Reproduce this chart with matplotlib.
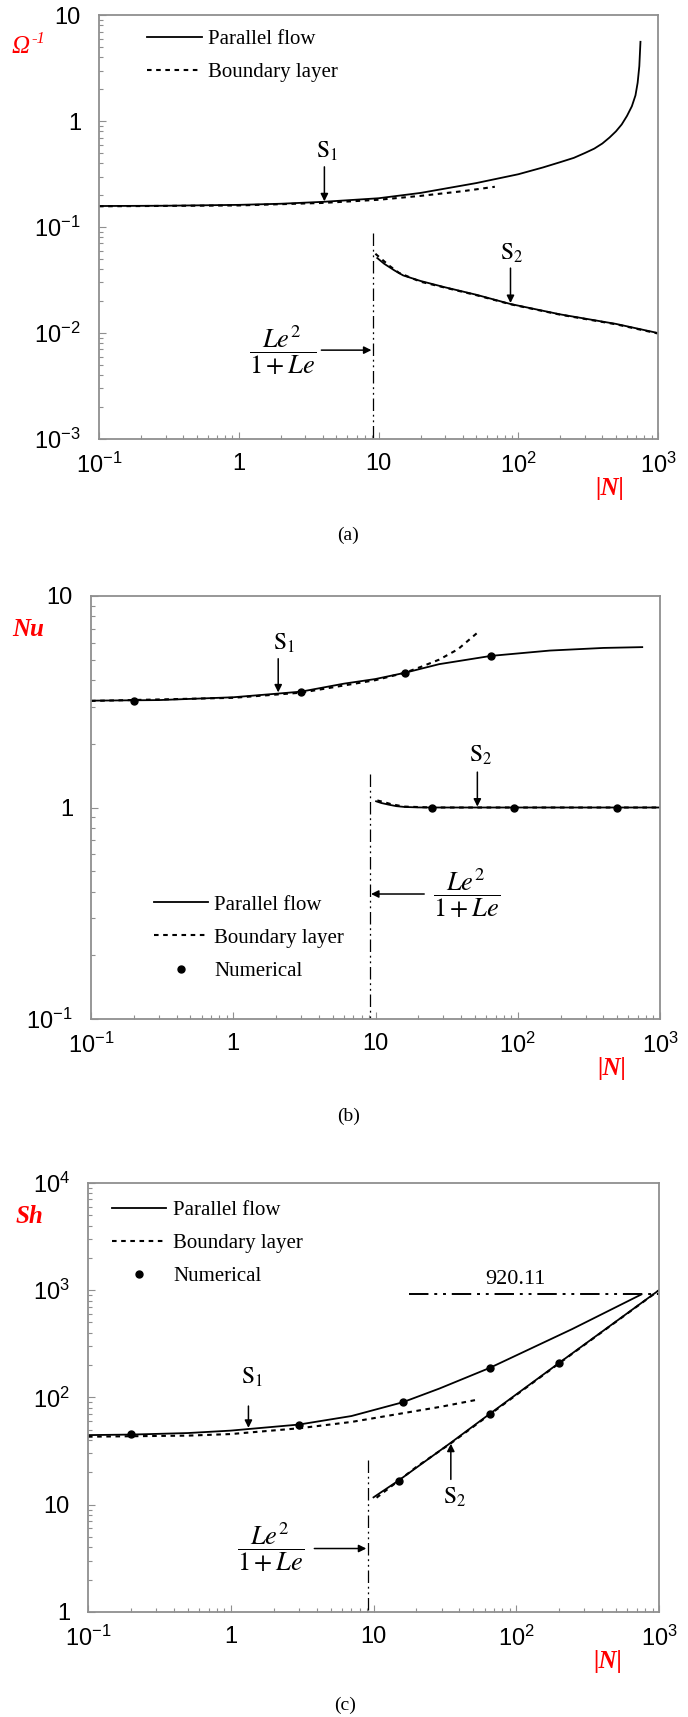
import matplotlib
matplotlib.use('Agg')
import matplotlib.pyplot as plt
from matplotlib.lines import Line2D
from matplotlib.ticker import LogLocator, NullFormatter

plt.rcParams['font.family'] = ['Liberation Sans', 'DejaVu Sans']
plt.rcParams['mathtext.fontset'] = 'custom'
plt.rcParams['mathtext.rm'] = 'Liberation Sans'
plt.rcParams['mathtext.it'] = 'Liberation Sans:italic'
plt.rcParams['axes.unicode_minus'] = False

# ---- shared x axis ----
x_ticks = [0.1, 1, 10, 100, 1000]
x_labels = [r'$10^{-1}$', '1', '10', r'$10^{2}$', r'$10^{3}$']
le_crit = 9.09   # Le^2/(1+Le) for Le = 10

# ---- (a) Omega^-1 ----
a_par_hi_n = [0.1, 0.3, 1, 2, 4, 10, 20, 50, 100, 150, 200, 250, 300, 350, 400, 450, 500, 550,
              600, 650, 690, 715, 735, 749]
a_par_hi_v = [0.158, 0.159, 0.162, 0.166, 0.173, 0.187, 0.21, 0.26, 0.315, 0.365, 0.41, 0.45,
              0.5, 0.55, 0.615, 0.7, 0.8, 0.93, 1.12, 1.38, 1.75, 2.3, 3.3, 5.6]
a_bl_hi_n = [0.1, 1, 4, 10, 20, 40, 68]
a_bl_hi_v = [0.157, 0.16, 0.169, 0.181, 0.197, 0.218, 0.24]
a_par_lo_n = [9.8, 11, 13, 15, 20, 30, 50, 88, 200, 500, 1000]
a_par_lo_v = [0.051, 0.045, 0.039, 0.035, 0.031, 0.027, 0.023, 0.0188, 0.015, 0.0122, 0.0100]
a_bl_lo_n = [9.5, 10.5, 12, 14, 20, 50, 88, 200, 500, 1000]
a_bl_lo_v = [0.056, 0.050, 0.043, 0.037, 0.0305, 0.0228, 0.0187, 0.0149, 0.0121, 0.0099]
a_yticks = [1e-3, 1e-2, 1e-1, 1, 10]
a_ylabels = [r'$10^{-3}$', r'$10^{-2}$', r'$10^{-1}$', '1', '10']

# ---- (b) Nu ----
b_par_hi_n = [0.1, 0.3, 1, 2, 3, 6, 10, 16, 28, 65, 168, 400, 750]
b_par_hi_v = [3.2, 3.22, 3.32, 3.45, 3.53, 3.85, 4.05, 4.33, 4.76, 5.21, 5.52, 5.68, 5.73]
b_bl_hi_n = [0.1, 1, 3, 10, 16, 21, 28, 38, 52]
b_bl_hi_v = [3.19, 3.3, 3.49, 4.0, 4.33, 4.63, 5.0, 5.6, 6.7]
b_par_lo_n = [10.1, 11, 12.5, 14, 16, 20, 25, 100, 1000]
b_par_lo_v = [1.07, 1.05, 1.03, 1.015, 1.006, 1.001, 1.0, 1.0, 1.0]
b_bl_lo_n = [10.3, 11.5, 13, 16, 25, 100, 1000]
b_bl_lo_v = [1.08, 1.06, 1.035, 1.01, 1.0, 1.0, 1.0]
b_num_n = [0.2, 3.0, 16, 65, 25, 94, 500]
b_num_v = [3.2, 3.52, 4.33, 5.21, 1.0, 1.0, 1.0]
b_yticks = [0.1, 1, 10]
b_ylabels = [r'$10^{-1}$', '1', '10']

# ---- (c) Sh ----
c_par_hi_n = [0.1, 0.2, 0.5, 1, 3, 7, 16, 29, 65, 246, 750]
c_par_hi_v = [44.5, 45, 46.5, 49, 55.8, 67, 90, 121, 188, 433, 910]
c_bl_hi_n = [0.1, 0.5, 1, 3, 7, 14, 30, 53]
c_bl_hi_v = [43, 44, 45.5, 51.5, 59, 69, 82, 95]
c_par_lo_n = [10.0, 15, 35, 65, 200, 1000]
c_par_lo_v = [11.7, 16.8, 38, 70, 210, 1000]
c_bl_lo_n = [10.5, 20, 35, 65, 200, 1000]
c_bl_lo_v = [11.6, 22.5, 37.5, 69, 208, 995]
c_num_n = [0.2, 3.0, 16, 65, 15, 65, 200]
c_num_v = [45.5, 55.8, 90, 188, 16.5, 69.7, 209]
c_asym_n = [17.7, 1000]
c_asym_v = [920.11, 920.11]
c_yticks = [1, 10, 100, 1000, 10000]
c_ylabels = ['1', '10', r'$10^{2}$', r'$10^{3}$', r'$10^{4}$']

RED = '#ff0000'
SPINE = '#8f8f8f'
BL_STYLE = (0, (2.2, 2.2))
DD_STYLE = (0, (10, 3, 1.5, 3, 1.5, 3))
SERIF = 'Liberation Serif'

fig = plt.figure(figsize=(6.88, 17.17), dpi=100)
ax_a = fig.add_axes([0.1439, 0.7443, 0.8125, 0.2469])
ax_b = fig.add_axes([0.1323, 0.4065, 0.8270, 0.2464])
ax_c = fig.add_axes([0.1279, 0.0612, 0.8300, 0.2499])


def style_axes(ax, ylim, yticks, ylabels):
    ax.set_xscale('log')
    ax.set_yscale('log')
    ax.set_xlim(0.1, 1000)
    ax.set_ylim(*ylim)
    ax.set_xticks(x_ticks)
    ax.set_xticklabels(x_labels)
    ax.set_yticks(yticks)
    ax.set_yticklabels(ylabels)
    for axis in (ax.xaxis, ax.yaxis):
        axis.set_minor_locator(LogLocator(base=10, subs=range(2, 10)))
        axis.set_minor_formatter(NullFormatter())
    ax.tick_params(which='both', direction='in', color=SPINE, top=False, right=False)
    ax.tick_params(which='major', length=5, width=0.8, labelsize=17)
    ax.tick_params(which='minor', length=3, width=0.8)
    ax.tick_params(axis='y', pad=13)
    ax.tick_params(axis='x', pad=10)
    for s in ax.spines.values():
        s.set_color(SPINE)
        s.set_linewidth(1.3)


def arrow(ax, tip, tail):
    ax.annotate('', xy=tip, xytext=tail,
                arrowprops=dict(arrowstyle='-|>', color='black', lw=1.1,
                                mutation_scale=11, shrinkA=0, shrinkB=0))


def s_label(ax, x, y, txt):
    ax.text(x, y, txt, math_fontfamily='stix', fontsize=17, ha='center', va='center')


def frac_label(ax, x, y):
    ax.text(x, y, r'$\dfrac{\mathit{Le}^{2}}{\mathit{1+Le}}$', math_fontfamily='stix',
            fontsize=19, ha='center', va='center')


def n_label(ax, x, y):
    ax.text(x, y, '|N|', transform=ax.transAxes, family=SERIF, weight='bold',
            style='italic', color=RED, fontsize=18, ha='center', va='center')


def legend(ax, anchor, with_num):
    h = [Line2D([], [], color='black', lw=1.3),
         Line2D([], [], color='black', lw=1.5, ls=BL_STYLE)]
    labels = ['Parallel flow', 'Boundary layer']
    if with_num:
        h.append(Line2D([], [], color='black', ls='none', marker='o', ms=5))
        labels.append('Numerical')
    ax.legend(h, labels, loc='upper left', bbox_to_anchor=anchor, frameon=False,
              prop={'family': SERIF, 'size': 15}, handlelength=2.6, handletextpad=0.32,
              labelspacing=0.65, borderpad=0, borderaxespad=0, numpoints=1)


# ---------------- (a) ----------------
ax = ax_a
style_axes(ax, (1e-3, 10), a_yticks, a_ylabels)
ax.plot(a_par_hi_n, a_par_hi_v, color='black', lw=1.3)
ax.plot(a_bl_hi_n, a_bl_hi_v, color='black', lw=1.5, ls=BL_STYLE)
ax.plot(a_bl_lo_n, a_bl_lo_v, color='black', lw=1.5, ls=BL_STYLE)
ax.plot(a_par_lo_n, a_par_lo_v, color='black', lw=1.3)
ax.plot([le_crit, le_crit], [0.087, 1e-3], color='black', lw=0.9, ls=DD_STYLE)
arrow(ax, (4.1, 0.175), (4.1, 0.37))
s_label(ax, 4.3, 0.52, r'$\mathrm{S}_{1}$')
arrow(ax, (88, 0.0192), (88, 0.041))
s_label(ax, 90, 0.056, r'$\mathrm{S}_{2}$')
frac_label(ax, 2.05, 0.0069)
arrow(ax, (8.9, 0.0069), (3.9, 0.0069))
legend(ax, (0.0866, 0.966), False)
ax.text(-0.14, 0.925, 'Ω', transform=ax.transAxes, family=SERIF, style='italic',
        color=RED, fontsize=18, ha='center', va='center')
ax.annotate('-1', xy=(-0.14, 0.925), xycoords='axes fraction', xytext=(13, 6),
            textcoords='offset points', family=SERIF, style='italic', color=RED,
            fontsize=12, ha='center', va='center')
n_label(ax, 0.914, -0.116)

# ---------------- (b) ----------------
ax = ax_b
style_axes(ax, (0.1, 10), b_yticks, b_ylabels)
ax.plot(b_par_hi_n, b_par_hi_v, color='black', lw=1.3)
ax.plot(b_bl_hi_n, b_bl_hi_v, color='black', lw=1.5, ls=BL_STYLE)
ax.plot(b_bl_lo_n, b_bl_lo_v, color='black', lw=1.5, ls=BL_STYLE)
ax.plot(b_par_lo_n, b_par_lo_v, color='black', lw=1.3)
ax.plot(b_num_n, b_num_v, ls='none', marker='o', ms=5, color='black')
ax.plot([le_crit, le_crit], [1.44, 0.1], color='black', lw=0.9, ls=DD_STYLE)
arrow(ax, (2.07, 3.5), (2.07, 5.05))
s_label(ax, 2.26, 6.0, r'$\mathrm{S}_{1}$')
arrow(ax, (52, 1.01), (52, 1.47))
s_label(ax, 55, 1.76, r'$\mathrm{S}_{2}$')
frac_label(ax, 43.5, 0.392)
arrow(ax, (9.3, 0.39), (22, 0.39))
legend(ax, (0.11, 0.293), True)
ax.text(-0.111, 0.92, 'Nu', transform=ax.transAxes, family=SERIF, weight='bold',
        style='italic', color=RED, fontsize=18, ha='center', va='center')
n_label(ax, 0.916, -0.116)

# ---------------- (c) ----------------
ax = ax_c
style_axes(ax, (1, 1e4), c_yticks, c_ylabels)
ax.plot(c_par_hi_n, c_par_hi_v, color='black', lw=1.3)
ax.plot(c_bl_hi_n, c_bl_hi_v, color='black', lw=1.5, ls=BL_STYLE)
ax.plot(c_bl_lo_n, c_bl_lo_v, color='black', lw=1.5, ls=BL_STYLE)
ax.plot(c_par_lo_n, c_par_lo_v, color='black', lw=1.3)
ax.plot(c_num_n, c_num_v, ls='none', marker='o', ms=5, color='black')
ax.plot([le_crit, le_crit], [26, 1], color='black', lw=0.9, ls=DD_STYLE)
ax.plot(c_asym_n, c_asym_v, color='black', lw=1.4, ls=DD_STYLE)
ax.text(98, 1250, '920.11', family=SERIF, fontsize=16, ha='center', va='center')
arrow(ax, (1.33, 52), (1.33, 83))
s_label(ax, 1.4, 155, r'$\mathrm{S}_{1}$')
arrow(ax, (34.8, 37), (34.8, 17.2))
s_label(ax, 37.3, 11.7, r'$\mathrm{S}_{2}$')
frac_label(ax, 1.91, 3.95)
arrow(ax, (8.9, 3.9), (3.85, 3.9))
legend(ax, (0.0425, 0.959), True)
ax.text(-0.102, 0.921, 'Sh', transform=ax.transAxes, family=SERIF, weight='bold',
        style='italic', color=RED, fontsize=18, ha='center', va='center')
n_label(ax, 0.911, -0.1166)

fig.text(0.506, 1 - 535 / 1717, '(a)', family=SERIF, fontsize=14, ha='center', va='center')
fig.text(0.506, 1 - 1116 / 1717, '(b)', family=SERIF, fontsize=14, ha='center', va='center')
fig.text(0.502, 1 - 1705 / 1717, '(c)', family=SERIF, fontsize=14, ha='center', va='center')

fig.savefig('out.png', dpi=100)
